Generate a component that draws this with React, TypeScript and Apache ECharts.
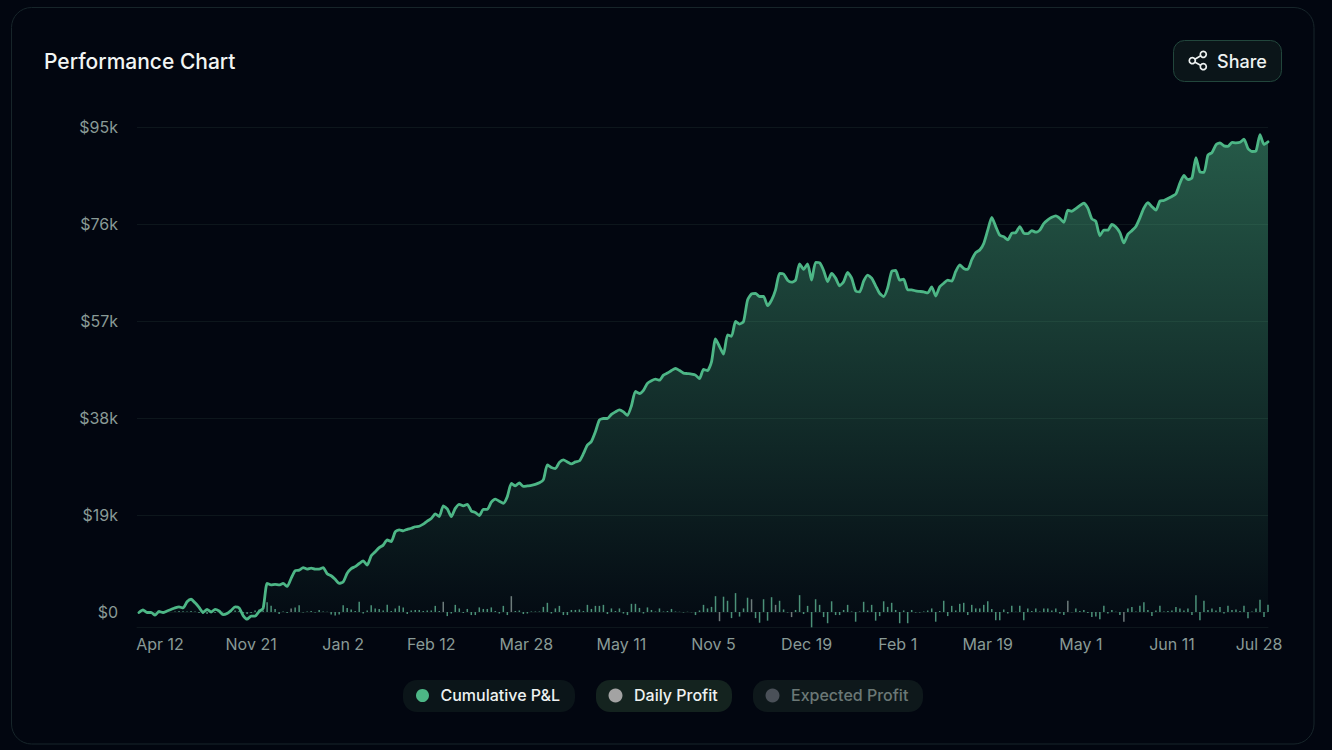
import React, { useEffect, useRef } from "react";
import * as echarts from "echarts";

const cumulative = [
  -0.1,0.4,-0.1,-0.1,-0.6,0.1,-0.1,0.2,0.5,0.8,
  1.0,0.8,2.0,2.5,1.8,0.9,-0.1,0.5,0,0.5,
  0.2,-0.5,-0.3,0.3,1.0,0.8,-0.7,-1.4,-0.8,-0.8,
  0.1,0.7,5.6,5.3,5.4,5.3,5.6,5.0,6.6,8.1,
  8.2,8.7,8.4,8.6,8.4,8.4,8.7,7.5,7.1,6.4,
  5.6,5.9,7.6,8.5,8.9,9.5,10,9.2,11.0,11.8,
  12.6,13.1,14.1,13.8,15.7,16.1,15.9,16.2,16.4,16.7,
  16.8,17.2,17.8,18.3,19.2,18.7,20.8,20.2,18.7,20.3,
  21.1,20.8,21.1,19.8,19.5,18.9,20.1,20.1,21.5,22.1,
  21.7,21.3,22.6,25.2,24.7,25.3,24.6,24.7,24.8,25.0,
  25.3,25.9,28.8,28.3,28.1,29.3,29.8,29.4,29.0,29.4,
  29.6,31.0,32.7,33.4,35.3,37.6,37.9,37.9,38.7,39.2,
  39.6,39.2,38.5,40.4,43.2,42.8,43.4,44.8,45.3,45.6,
  45.4,46.4,46.8,47.3,47.7,47.3,46.8,46.7,46.6,46.4,
  45.7,47.5,47.3,49,53.5,52.0,50.5,54.3,54.0,56.9,
  56.4,56.9,61.1,62.3,62.4,61.8,61.8,60.0,61.1,63.1,
  66.3,66.2,65.0,64.6,65.0,68.2,67.1,68.2,65.0,68.5,
  68.4,66.9,64.7,66.3,65.4,63.9,64.7,66.5,65.4,62.9,
  62.7,64.8,66.0,65.4,63.9,62.4,61.8,63.5,66.7,66.9,
  65.0,65.2,63.1,63.1,62.9,62.8,62.7,62.5,63.7,61.9,
  63.7,64.4,65.0,64.8,66.7,68.0,67.3,67.1,69.0,70.4,
  70.9,72.2,74.8,77.3,75.5,73.8,73.5,72.9,74.2,74.3,
  75.5,74.2,74.1,74.7,74.4,74.8,76.1,76.8,77.3,77.6,
  77.1,76.3,78.7,78.5,79.0,79.6,80.1,79.1,77.0,76.5,
  73.7,74.8,74.8,75.9,75.4,74.3,72.3,74.0,74.7,75.5,
  77.2,79.1,80.2,79.4,78.7,80.5,80.6,81.0,81.4,81.9,
  84.0,85.5,84.7,85.0,89.0,86.2,86.1,89.5,90.0,91.5,
  91.9,91.3,91.2,92.0,91.9,92.0,92.6,90.8,90.2,90.3,
  93.5,91.6,92.1,
];

const daily = [
  0,0.05,0,0,0.05,0,0.05,0.1,0,0.1,
  0.2,0.15,0.1,0.2,0.1,-0.2,-0.3,-0.4,0.1,-0.2,
  0.1,0.05,-0.1,0.2,0.3,0.2,-0.3,-0.4,-0.2,0.3,
  0.5,0.3,1.9,1.2,0.6,-0.4,0.1,-0.2,0.7,0.9,
  1.3,-0.1,0.1,0.2,-0.1,0.4,0.1,0.05,-0.5,-0.7,
  -0.5,1.3,0.8,0.5,0.2,2.0,-0.3,0.3,1.3,0.7,
  0.6,0.3,1.4,0.2,0.7,1.2,0.9,-0.4,0.3,0.4,
  0.4,0.2,0.3,0.3,1.2,0.2,2.0,-0.8,-0.3,1.4,
  0.7,-0.2,0.6,-0.6,-0.6,0.9,0.6,0.6,0.9,0.2,
  -0.3,1.2,-0.6,3.1,0.2,0.3,-0.4,-0.3,0.1,0.1,
  0.1,1.0,1.8,-0.3,0.7,1.2,-0.6,-0.6,0.4,0.4,
  0.5,0.2,1.4,0.6,1.2,1.2,1.4,-0.4,0.7,0.2,
  0.7,-0.3,-0.6,1.6,1.6,0.8,-0.3,0.9,0.4,0.1,
  0.7,0.1,0.2,0.6,0.1,0.05,-0.1,0.05,-0.05,-0.6,
  0.3,1.4,0.7,1.0,3.1,-1.8,3.0,2.2,-1.2,3.7,
  -0.9,0.7,2.8,2.5,-1.2,-2.1,2.5,-1.7,2.9,1.4,
  2.2,0.5,-0.1,-1.0,0.4,3.3,-0.4,1.2,-3.0,2.5,
  1.4,-1.0,-2.2,2.1,-0.6,-0.6,0.4,1.4,0.1,-1.9,
  0.1,2.0,0.3,1.4,-1.7,-0.8,2.1,1.0,1.8,0.4,
  -2.2,0.3,-2.2,0.4,-0.1,-0.1,0.1,0.3,0.7,-1.9,
  0.2,2.2,-0.8,1.2,0.3,1.6,1.8,-0.6,1.4,0.7,
  0.7,1.4,2.1,0.6,-1.6,-1.6,0.5,-0.3,1.2,0.05,
  1.2,-1.6,0.7,0.2,0.7,0.1,0.7,0.7,0.3,0.7,
  -0.3,-0.6,2.2,-0.05,0.7,0.2,0.4,-0.2,-1.0,-0.9,
  -1.4,1.2,-0.3,0.4,0.05,-0.6,-1.9,0.7,1.0,0.1,
  1.2,1.9,0.4,-0.8,0.3,1.2,0.1,0.2,0.3,1.0,
  0.7,0.3,0.7,-0.6,3.3,-1.6,2.2,0.4,0.7,0.3,
  1.0,-0.3,1.2,0.4,0.5,0.2,1.2,-1.2,0.1,0.7,
  2.4,-1.0,1.4,
];

const greyBars = [38, 76, 93, 145, 153, 159, 163, 232, 246];

const tickLabels = ["Apr 12","Nov 21","Jan 2","Feb 12","Mar 28","May 11","Nov 5","Dec 19","Feb 1","Mar 19","May 1","Jun 11","Jul 28"];
const tickIndex = [5.25,28,51,73,96.75,120.5,143.5,166.75,189.5,212,235.25,258,279.75];

const legendNames = ["Cumulative P&L","Daily Profit","Expected Profit"];

const FONT = "Inter, 'Noto Sans', sans-serif";
const BG = "#020610";
const GRID_LINE = "#0d161c";
const LABEL = "#899a96";

export default function App() {
  const ref = useRef<HTMLDivElement | null>(null);
  useEffect(() => {
    if (!ref.current) return;
    const chart = echarts.init(ref.current, undefined, { renderer: "svg" });
    const pill = (x: number, w: number, fill: string, dot: string, r: number, tx: number, name: string, color: string) => [
      { type: "rect", silent: true, shape: { x, y: 680, width: w, height: 32, r: 14 }, style: { fill } },
      { type: "circle", silent: true, shape: { cx: x + 19.5, cy: 695.5, r }, style: { fill: dot } },
      { type: "text", silent: true, style: { x: tx, y: 695, text: name, fill: color, font: `500 16px ${FONT}`, textAlign: "left", textVerticalAlign: "middle" } },
    ];
    const shareStroke = { stroke: "#eef2f1", lineWidth: 1.7, fill: "transparent" };
    chart.setOption({
      animation: false,
      backgroundColor: BG,
      // The value scale runs down to -19 so that its ticks stay on multiples of 19;
      // the part below the plot's floor is left empty.
      grid: { left: 137, right: 64, top: 127, height: 582 },
      xAxis: {
        type: "value",
        min: -0.5,
        max: 282,
        offset: -82,
        splitLine: { show: false },
        axisLine: { show: true, onZero: false, lineStyle: { color: GRID_LINE, width: 1 } },
        axisTick: { show: false },
        axisLabel: {
          customValues: tickIndex,
          hideOverlap: false,
          margin: 9,
          color: LABEL,
          fontFamily: FONT,
          fontSize: 16,
          formatter: (v: number) => tickLabels[tickIndex.indexOf(v)] ?? "",
        },
      },
      yAxis: {
        type: "value",
        min: -19,
        max: 95,
        interval: 19,
        axisLine: { show: false },
        axisTick: { show: false },
        splitLine: { showMinLine: false, lineStyle: { color: GRID_LINE, width: 1 } },
        axisLabel: {
          showMinLabel: false,
          margin: 19,
          color: LABEL,
          fontFamily: FONT,
          fontSize: 16,
          formatter: (v: number) => (v === 0 ? "$0" : `$${v}k`),
        },
      },
      series: [
        {
          name: "Daily Profit",
          type: "bar",
          barWidth: 1.5,
          z: 3,
          data: daily.map((v, i) => ({
            value: [i, v],
            itemStyle: { color: greyBars.includes(i) ? "#6f7a7b" : "#4b9078" },
          })),
        },
        {
          name: "Cumulative P&L",
          type: "line",
          z: 4,
          showSymbol: false,
          smooth: 0.2,
          lineStyle: { color: "#4db686", width: 2.8, join: "round", cap: "round" },
          areaStyle: {
            color: new echarts.graphic.LinearGradient(0, 0, 0, 1, [
              { offset: 0, color: "rgba(77,182,134,0.68)" },
              { offset: 1, color: "rgba(77,182,134,0.04)" },
            ]),
          },
          data: cumulative.map((v, i) => [i, v]),
        },
      ],
      graphic: [
        { type: "rect", silent: true, z: -1, shape: { x: 11.5, y: 7.5, width: 1302.5, height: 736.5, r: 20 }, style: { fill: BG, stroke: "#17252a", lineWidth: 1 } },
        { type: "text", silent: true, style: { x: 44, y: 61, text: "Performance Chart", fill: "#f2f5f4", font: `500 21px ${FONT}`, textAlign: "left", textVerticalAlign: "middle" } },
        { type: "rect", silent: true, shape: { x: 1173.5, y: 40.5, width: 108, height: 41, r: 11 }, style: { fill: "#0b1519", stroke: "#22463c", lineWidth: 1 } },
        { type: "line", silent: true, shape: { x1: 1192.3, y1: 60.7, x2: 1203.3, y2: 54.3 }, style: shareStroke },
        { type: "line", silent: true, shape: { x1: 1192.3, y1: 60.7, x2: 1203.3, y2: 66.7 }, style: shareStroke },
        { type: "circle", silent: true, shape: { cx: 1192.3, cy: 60.7, r: 3 }, style: { ...shareStroke, fill: "#0b1519" } },
        { type: "circle", silent: true, shape: { cx: 1203.3, cy: 54.3, r: 3 }, style: { ...shareStroke, fill: "#0b1519" } },
        { type: "circle", silent: true, shape: { cx: 1203.3, cy: 66.7, r: 3 }, style: { ...shareStroke, fill: "#0b1519" } },
        { type: "text", silent: true, style: { x: 1217, y: 61, text: "Share", fill: "#eef2f1", font: `500 18px ${FONT}`, textAlign: "left", textVerticalAlign: "middle" } },
        ...pill(403, 172, "#0b1519", "#4db686", 6.5, 440.5, legendNames[0], "#eef2f1"),
        ...pill(596, 136, "#14231f", "#a3a3a3", 7, 634, legendNames[1], "#eef2f1"),
        ...pill(753, 170, "#0e181b", "#4a5058", 7, 791, legendNames[2], "#6b7876"),
      ],
    });
    return () => chart.dispose();
  }, []);
  return <div ref={ref} style={{ position: "fixed", left: 0, top: 0, width: 1332, height: 750 }} />;
}
